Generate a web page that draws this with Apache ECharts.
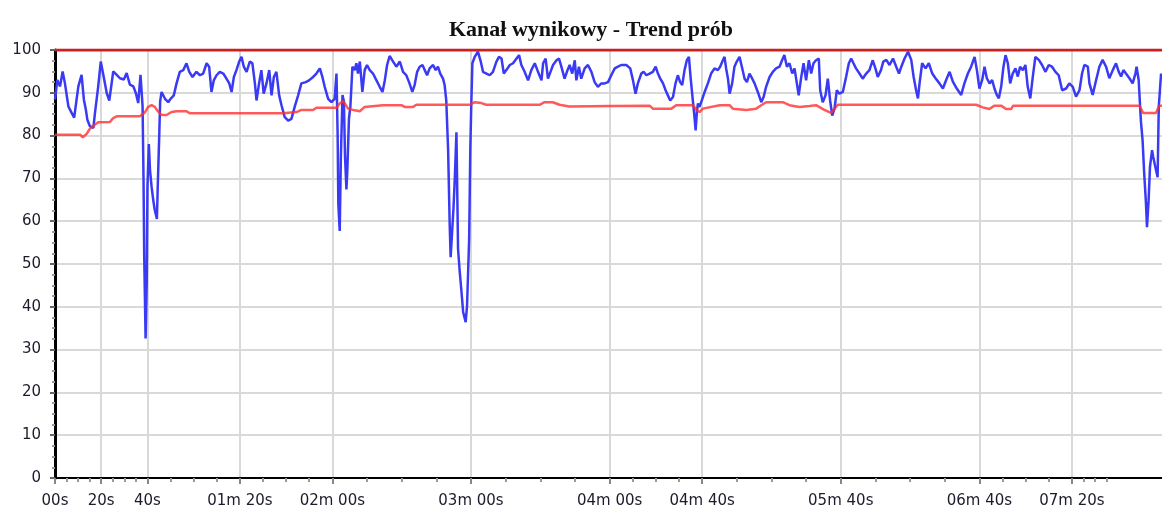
<!DOCTYPE html>
<html>
<head>
<meta charset="utf-8">
<title>Kanał wynikowy - Trend prób</title>
<script src="https://cdn.jsdelivr.net/npm/echarts@6.0.0/dist/echarts.min.js"></script>
<style>
  html, body { margin: 0; padding: 0; background: #fff; }
  #trend_chart { width: 1162px; height: 514px; }
</style>
</head>
<body>
<div id="trend_chart"></div>
<script>
// opisy osi X (sekundy) - nieregularne jak w oryginale
var tickSeconds = [0, 20, 40, 80, 120, 180, 240, 280, 340, 400, 440]
var tickLabels = ['00s', '20s', '40s', '01m 20s', '02m 00s', '03m 00s', '04m 00s', '04m 40s', '05m 40s', '06m 40s', '07m 20s']
var extraMinorTicks = [445, 450, 455]

// próbki - czas [s]
var sampleTimes = [
  0, 1, 2.2, 3.3, 4.3, 5.8, 7.2, 8.3, 9.1, 10.1, 11.5, 12.5, 13.4, 14, 15.1, 16.6, 17.3, 18.7, 19.8, 20.9,
  22.4, 23.5, 24.2, 25.2, 26.7, 28.1, 29.8, 31, 32.4, 33.9, 35, 36, 37, 37.9,
  38.3, 38.6, 39.2, 39.7, 40, 40.6, 41.1, 41.8, 42.5, 43.1, 44.1, 44.5, 45, 45.5,
  46.1, 47.6, 49, 50, 51.4, 52.6, 54, 55.5, 56.9, 58.1, 59.5, 61.2, 62.7, 64.1, 65.6, 66.7, 67.7, 68.7, 69.9,
  71.3, 72.8, 74.2, 75.4, 76.4, 77.4, 78.5, 79.7, 80.7, 81.7, 82.9, 84.3, 85.4, 86.5, 87.2, 88.3, 89.3, 90.3,
  91.5, 92.7, 93.7, 94.7, 95.8, 97, 98, 99.4, 100.9, 102.3, 103.7, 105.2, 106.6, 108.5, 109.9, 111.7, 113.1,
  114.6, 115.7, 116.7, 118.2, 119.6, 121, 121.8,
  122.3, 122.6, 123.2, 123.7, 124.4, 125, 125.5, 126.1, 126.5, 127.2, 127.8, 128.7, 129.7, 130.4, 131.1,
  131.9, 133, 134, 135, 136.2, 137.6, 139.1, 140.5, 141.7, 142.7, 143.7, 144.8, 146.3, 147.7, 149.2, 150.6,
  152, 153.2, 154.6, 155.6, 156.7, 157.8, 159, 160, 161, 162.1, 163.6, 164.7, 165.7, 166.7, 167.9, 168.6, 169.3,
  170.1, 170.8, 171.2, 171.9, 172.4, 173, 173.7, 174.4, 175.1, 175.9, 176.6, 177.7, 178.3, 179.2, 179.7, 180.1,
  180.6, 181.6, 183, 184.1, 185.2, 186.7, 188.1, 189.5, 191, 192.1, 193.2, 194.2, 195.3, 196.8, 198.2, 199.7,
  200.8, 201.8, 203.2, 204.7, 206.1, 207.6, 209, 210.5, 211.2, 212.3, 213.3, 214.4, 215.5, 217, 218.1, 219.1,
  220.5, 221.5, 222.7, 223.8, 224.9, 225.6, 226.7, 227.7, 229.2, 230.6, 232.1, 233.5, 234.9, 236.4, 237.8,
  239.3, 240.7, 242.2, 243.6, 245, 247.2, 248.9, 250.1, 251.2, 252.2, 253.7, 254.7, 255.9, 257.3, 258.7, 259.9,
  260.9, 261.9, 263.1, 264.2, 265.2, 266.2, 267.4, 268.5, 269.5, 270.5, 271.4, 272.4, 273.4, 274.3, 275, 275.7,
  276.7, 277.2, 277.8, 278.2, 278.9, 280.1, 281.1, 282.5, 283.9, 285.4, 286.8, 287.8, 289, 289.7, 290.4, 291.2,
  291.9, 293, 294, 295, 296.2, 297.2, 298.4, 299.4, 300.5, 301.7, 302.7, 304.1, 305.6, 306.6, 307.7, 309.2,
  310.6, 312, 313.5, 314.6, 315.6, 316.7, 317.8, 319, 320, 321, 321.8, 322.9, 323.9, 325, 326.2, 327.2, 328.2,
  329.3, 330.5, 331.1, 332.2, 333.4, 334.4, 335.4, 336.3, 337.3, 338.3, 339.4, 340.9, 342.3, 343.5, 344.5,
  345.5, 346.6, 348.1, 349.5, 351, 352.4, 353.8, 355, 356, 357.4, 358.4, 359.7, 361.1, 362.6, 364, 365.2,
  366.2, 367.6, 369.1, 370.5, 371.5, 372.6, 373.4, 374.1, 375.2, 376.7, 378.1, 379.6, 381, 382.7, 384.2,
  385.6, 387.1, 388.5, 390.2, 392.1, 393.5, 395, 396.4, 397.9, 398.9, 400, 401.2, 402.2, 403.2, 404.4, 405.5,
  406.5, 407.5, 408.4, 409.4, 410.4, 411.3, 412.3, 413.3, 414.4, 415.6, 416.6, 417.6, 418.8, 419.9, 420.9,
  422, 423.1, 424.2, 425.7, 427.1, 428.6, 430, 431.4, 432.9, 434.3, 435.8, 437.5, 438.9, 440.4, 441.8, 443.3,
  444.4, 445.4, 446.9, 447.6, 449, 450.5, 451.9, 453.3, 454.8, 456.2, 457.7, 459.1, 460.3, 461.3, 462.3, 463.4,
  464.9, 466.3, 467.5, 468, 468.9, 469.9, 470.6, 471.3, 472, 472.5, 473.2, 473.8, 474.7, 475.2, 476.1, 477.1,
  477.6, 478.6
]
// próbki - wynik
var sampleValues = [
  88.4, 93, 91.5, 95, 92.2, 86.8, 85.3, 84.2, 83.9, 91.5, 94.2, 88.4, 85.9, 83.7, 82.2, 81.8, 85.3, 91.5, 97.3, 94.2,
  89.9, 88.2, 88, 95, 94.2, 93.4, 93.1, 94.6, 91.9, 91.5, 89.9, 87.6, 94.2, 86.8,
  70, 52, 32.6, 46, 68, 78, 72, 68, 65, 62.8, 60.5, 69, 78, 88,
  90.2, 88.6, 87.8, 88.6, 89.4, 92.2, 94.9, 95.3, 96.9, 94.9, 93.7, 94.9, 94.1, 94.5, 96.9, 96.1, 90.2, 92.9, 94.1,
  94.9, 94.5, 93.3, 92.2, 90.2, 93.7, 95.3, 97.3, 98.4, 96.1, 94.9, 97.3, 96.9, 92.2, 88.2, 92.2, 95.3, 89.8,
  92.2, 95.3, 89.4, 93.7, 94.9, 89.4, 87.1, 84.3, 83.5, 83.9, 86.7, 89.4, 92.2, 92.5, 92.9, 93.7, 94.5,
  95.7, 93.7, 91.4, 88.6, 87.8, 88.6, 94.5,
  80, 64, 57.7, 75, 89.5, 88, 75, 67.4, 72, 84, 86.7, 96.1, 95.3, 96.9, 94.5,
  97.3, 90.2, 95.3, 96.5, 95.3, 94.5, 92.9, 91.4, 90.2, 92.9, 96.5, 98.6, 97.3, 96.1, 97.3, 94.9,
  94.1, 92.5, 90.2, 91.8, 94.9, 96.1, 96.5, 95.3, 94.1, 95.7, 96.5, 95.3, 96.1, 94.5, 93.3, 91.8, 88.2,
  76.7, 58.9, 51.6, 51.6, 62.8, 70, 80.8, 53.5, 48.4, 43.4, 38.8, 36.4, 40.3, 55.8, 76.7, 86.7,
  96.9, 98.4, 99.6, 97.6, 94.9, 94.5, 94.1, 94.9, 97.3, 98.4, 98, 94.5, 95.3, 96.5, 96.9, 98,
  98.8, 96.5, 94.9, 92.9, 95.3, 96.9, 94.9, 92.9, 96.9, 98, 93.3, 94.9, 96.5, 97.6, 98, 96.1,
  93.3, 94.9, 96.5, 94.5, 97.6, 92.9, 96.1, 93.3, 95.7, 96.5, 94.9, 92.5, 91.4, 92.2, 92.2,
  92.5, 94.1, 95.7, 96.1, 96.5, 96.5, 95.7, 92.9, 89.8, 92.2, 94.5, 94.9, 94.1, 94.5, 94.9, 96.1,
  94.5, 93.3, 92.2, 90.6, 89.4, 88.2, 89, 92.2, 94.1, 92.5, 91.8, 95.3, 97.6, 98.4, 93.7, 89.8,
  84.3, 81.2, 85.9, 87.5, 86.7, 88.6, 90.2, 92.2, 94.5, 95.7, 95.3, 96.1, 97.6, 98.4, 95.7, 93.3,
  89.8, 92.2, 96.1, 97.3, 98.4, 96.1, 93.3, 92.5, 94.5, 93.3, 92.2, 90.2, 87.8, 89, 91.4, 93.7,
  94.9, 95.7, 96.1, 97.6, 98.8, 96.1, 96.9, 94.5, 95.7, 92.2, 89.4, 93.7, 96.9, 92.9, 97.6, 94.5, 96.9,
  97.6, 98, 90.6, 87.8, 89.4, 93.3, 88.2, 84.7, 86.3, 90.6, 89.8, 90.2, 93.7, 96.9, 98,
  96.9, 95.7, 94.5, 93.3, 94.5, 95.3, 97.6, 95.7, 93.7, 95.3, 97.3, 97.7, 96.5, 98, 96.1, 94.5,
  96.1, 98, 99.6, 97.7, 93.8, 90.6, 88.7, 92.2, 96.9, 95.7, 96.9, 94.5, 93.4, 92.2, 91,
  93, 94.9, 92.6, 91, 89.5, 92.2, 94.5, 96.1, 98.4, 95.3, 91, 93, 96.1, 93.4, 92.2, 93,
  91, 89.5, 88.7, 91.4, 96.1, 98.8, 96.9, 92.2, 94.5, 95.7, 93.8, 96.1, 95.3, 96.5, 91.4,
  88.7, 93.8, 98.4, 97.7, 96.5, 94.9, 96.5, 96.1, 94.9, 94.1, 90.6, 91, 92.2, 91.4, 89.1, 90.6,
  94.5, 96.5, 96.1, 92.2, 89.5, 93, 96.1, 97.7, 96.1, 93.4, 95.3, 96.9, 94.9, 93.8, 95.3, 94.5,
  93.4, 92.2, 94.5, 96.1, 93, 83.2, 78.9, 71.1, 64.8, 58.6, 64.8, 72.7, 76.6, 75, 72.7, 70.3,
  86.7, 94.5
]

// próg dolny (czerwona linia)
var limitTimes = [
  0, 11, 12, 13.7, 15.1, 17.3, 18.7, 23.8, 25.2, 26.7, 36.7, 38.9, 40.3, 41.8, 43.2, 44.2, 46.1, 48.3, 50.4,
  52.6, 56.9, 58.4, 98.7, 104.5, 106.6, 111.7, 113.1, 121.8, 123.2, 124.7, 126.8, 129.7, 131.9, 134, 141.9,
  149.9, 151.3, 154.9, 156.4, 179.4, 181.6, 184.5, 186.6, 209.7, 211.8, 215.4, 218.3, 222.6, 240, 257.3,
  258.7, 266.7, 268.8, 276, 277.8, 278.9, 280.3, 287.6, 291.9, 293.3, 299.1, 303.4, 305.6, 307.7, 314.9,
  317.8, 322.1, 326.5, 329.3, 332.9, 335.8, 338.7, 398.6, 401.4, 404.3, 406.5, 409.4, 411.5, 413.7, 414.6,
  469.2, 470.8, 476.4, 477.8, 479
]
var limitValues = [
  80.2, 80.2, 79.6, 80.4, 81.6, 82.6, 83.1, 83.2, 84.1, 84.5, 84.5, 85.4, 86.7, 87.1, 86.7, 85.9, 84.8, 84.8, 85.5,
  85.7, 85.7, 85.2, 85.2, 85.5, 86, 86, 86.5, 86.5, 87.5, 88.1, 86.3, 85.9, 85.7, 86.7, 87.1,
  87.1, 86.7, 86.7, 87.2, 87.2, 87.8, 87.6, 87.2, 87.2, 87.8, 87.8, 87.2, 86.8, 86.9, 87,
  86.3, 86.3, 87.1, 87.1, 85.9, 85.5, 86.3, 87.1, 87.1, 86.3, 86, 86.3, 87.1, 87.8, 87.8,
  87.1, 86.7, 86.9, 87.1, 86, 85.3, 87.2, 87.2, 86.6, 86.2, 87, 87, 86.2, 86.2, 87,
  87, 85.3, 85.3, 87, 87
]

// górna granica
var maxTimes = [0, 479]
var maxValues = [100, 100]

function zip(xs, ys) {
  return xs.map(function (x, i) { return [x, ys[i]] })
}

// drobne podziałki: 4 części między opisami osi X
var minorTicks = []
for (var i = 0; i < tickSeconds.length - 1; i++) {
  var step = (tickSeconds[i + 1] - tickSeconds[i]) / 4
  for (var k = 1; k < 4; k++) {
    minorTicks.push(tickSeconds[i] + step * k)
  }
}
minorTicks.push.apply(minorTicks, extraMinorTicks)

var myChart = echarts.init(document.getElementById('trend_chart'), null, { renderer: 'canvas' })
myChart.setOption({
  animation: false,
  backgroundColor: '#ffffff',
  title: {
    text: 'Kanał wynikowy - Trend prób',
    left: 586,
    top: 14,
    textAlign: 'center',
    textStyle: {
      fontFamily: 'Liberation Serif',
      fontWeight: 'bold',
      fontSize: 22,
      color: '#111'
    }
  },
  grid: {
    left: 55,
    right: 0,
    top: 50,
    bottom: 36
  },
  xAxis: [
    {
      type: 'value',
      min: 0,
      max: 479,
      axisLine: { lineStyle: { color: '#000', width: 2 } },
      axisTick: {
        customValues: tickSeconds,
        length: 6,
        lineStyle: { color: '#888', width: 2 }
      },
      axisLabel: {
        customValues: tickSeconds,
        margin: 16,
        fontFamily: 'DejaVu Sans',
        fontSize: 15,
        color: '#1c1c2c',
        formatter: function (v) {
          var idx = tickSeconds.indexOf(v)
          return idx >= 0 ? tickLabels[idx] : ''
        }
      },
      splitLine: {
        show: true,
        lineStyle: { color: '#d9d9d9', width: 2 }
      }
    },
    {
      // tylko drobne podziałki
      type: 'value',
      position: 'bottom',
      min: 0,
      max: 479,
      axisLine: { show: false },
      axisLabel: { show: false },
      splitLine: { show: false },
      axisTick: {
        customValues: minorTicks,
        length: 4,
        lineStyle: { color: '#999', width: 2 }
      }
    }
  ],
  yAxis: {
    type: 'value',
    min: 0,
    max: 100,
    interval: 10,
    axisLine: { show: true, lineStyle: { color: '#000', width: 3 } },
    axisTick: { show: true, length: 5, lineStyle: { color: '#666', width: 2 } },
    minorTick: { show: true, splitNumber: 4, length: 3, lineStyle: { color: '#999', width: 2 } },
    axisLabel: {
      margin: 14,
      fontFamily: 'DejaVu Sans',
      fontSize: 15,
      color: '#1c1c2c'
    },
    splitLine: {
      lineStyle: { color: '#d9d9d9', width: 2 }
    }
  },
  series: [
    {
      name: 'Wynik',
      type: 'line',
      showSymbol: false,
      data: zip(sampleTimes, sampleValues),
      lineStyle: { color: '#3a3af5', width: 2.5 },
      z: 3
    },
    {
      name: 'Próg',
      type: 'line',
      showSymbol: false,
      data: zip(limitTimes, limitValues),
      lineStyle: { color: '#ff3030', width: 2.5, opacity: 0.8 },
      z: 4
    },
    {
      name: 'Max',
      type: 'line',
      showSymbol: false,
      data: zip(maxTimes, maxValues),
      lineStyle: { color: '#cc1f1f', width: 3 },
      z: 5
    }
  ]
})
</script>
</body>
</html>
